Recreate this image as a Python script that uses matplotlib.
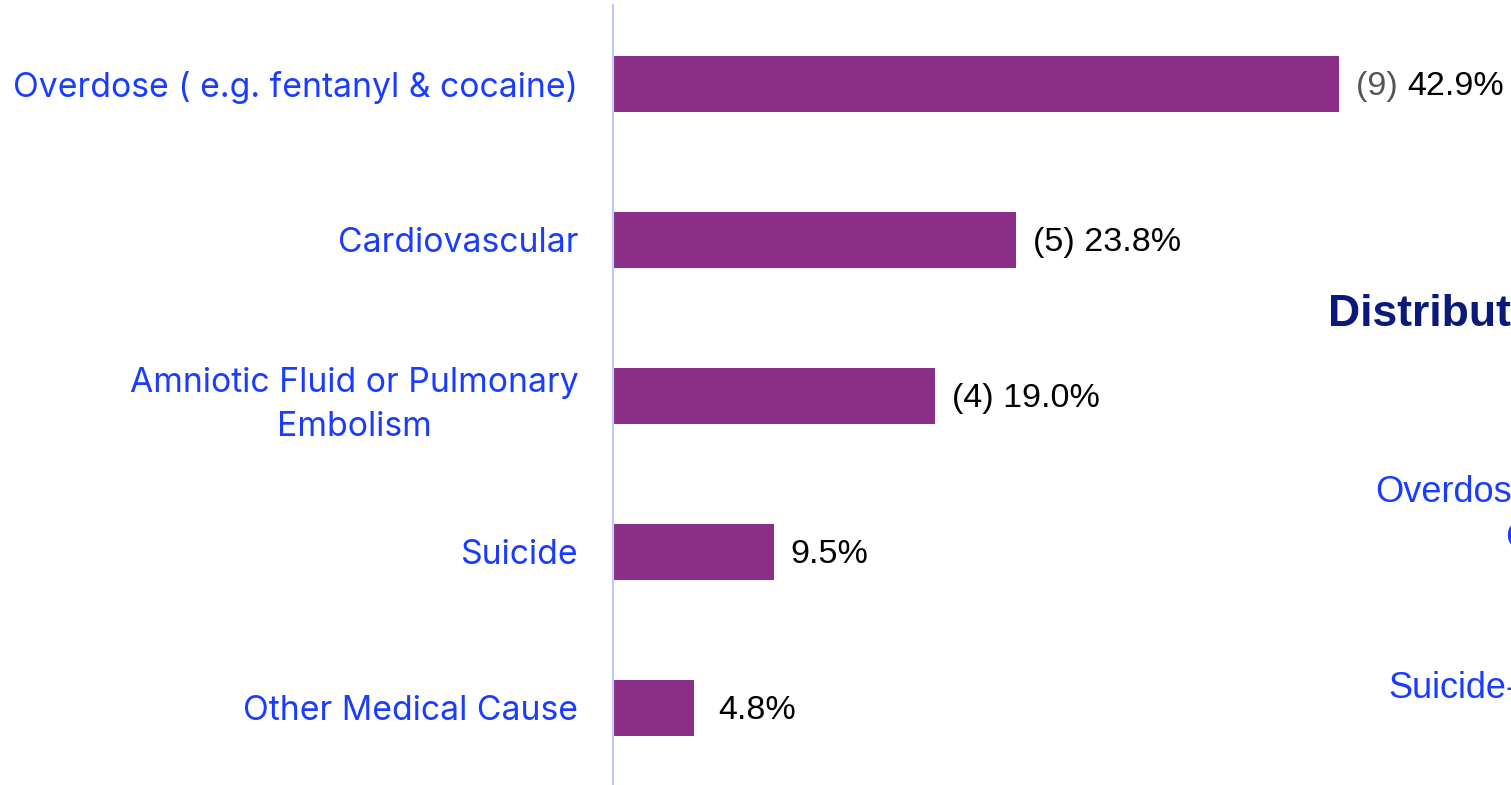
import matplotlib

matplotlib.use("Agg")
import matplotlib.pyplot as plt

# data
causes = [
    "Overdose ( e.g. fentanyl & cocaine)",
    "Cardiovascular",
    "Amniotic Fluid or Pulmonary\nEmbolism",
    "Suicide",
    "Other Medical Cause",
]
percents = [42.9, 23.8, 19.0, 9.5, 4.8]
counts = ["(9) ", "(5) ", "(4) ", "", ""]

BAR = "#8B2E87"
LABEL_BLUE = "#1A3CFF"
NAVY = "#0A1A7A"

fig = plt.figure(figsize=(15.11, 7.85), dpi=100)
ax = fig.add_axes([613 / 1511, 0, 898 / 1511, 780 / 785])

ypos = list(range(len(causes)))
ax.barh(ypos, percents, height=0.355, color=BAR)
ax.set_xlim(0, 898 / 16.93)
ax.set_ylim(4.494, -0.506)

ax.set_yticks(ypos)
ax.set_yticklabels(causes, fontsize=24.3, color=LABEL_BLUE, family="Inter")
for lbl in ax.get_yticklabels():
    lbl.set_multialignment("center")
    lbl.set_linespacing(1.45)
ax.tick_params(axis="y", length=0, pad=25)
ax.set_xticks([])

for side in ["top", "right", "bottom"]:
    ax.spines[side].set_visible(False)
ax.spines["left"].set_color("#C3CAFB")
ax.spines["left"].set_linewidth(1.6)

# value labels
for y, p, c in zip(ypos, percents, counts):
    off = 24 if p < 5 else 17
    if c and y == 0:
        t = ax.annotate(c, (p, y), xytext=(off * 0.72, -2.2), textcoords="offset points",
                        va="center", ha="left", fontsize=24.5, color="#555555",
                        family="Liberation Sans")
        ax.annotate(f"{p:.1f}%", (1, 0.5), xycoords=t, xytext=(0, 0),
                    textcoords="offset points", va="center", ha="left",
                    fontsize=24.5, color="black", family="Liberation Sans")
    else:
        ax.annotate(f"{c}{p:.1f}%", (p, y), xytext=(off * 0.72, -2.2),
                    textcoords="offset points", va="center", ha="left",
                    fontsize=24.5, color="black", family="Liberation Sans")

# neighbouring chart, cut off by the right edge as in the source
fig.text(1328 / 1511, 1 - 314 / 785, "Distribution", fontsize=32, fontweight="bold",
         color=NAVY, family="Liberation Sans", va="center", ha="left")
fig.text(1375 / 1511, 1 - 492 / 785, "Overdose", fontsize=26,
         color=LABEL_BLUE, family="Liberation Sans", va="center", ha="left")
fig.text(1505 / 1511, 1 - 539 / 785, "Cocaine", fontsize=26,
         color=LABEL_BLUE, family="Liberation Sans", va="center", ha="left")
fig.text(1388 / 1511, 1 - 689 / 785, "Suicide-", fontsize=26,
         color=LABEL_BLUE, family="Liberation Sans", va="center", ha="left")

fig.savefig("out.png", dpi=100)
plt.close(fig)
